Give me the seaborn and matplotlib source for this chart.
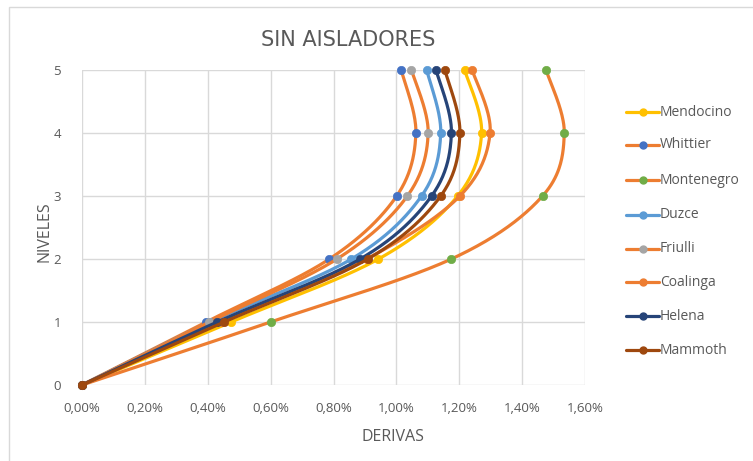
import numpy as np
import pandas as pd
import matplotlib
matplotlib.use("Agg")
import matplotlib.pyplot as plt
from matplotlib.lines import Line2D
from matplotlib.patches import Rectangle
import seaborn as sns

# Story levels and inter-storey drifts (%) for each ground motion record
niveles = [0, 1, 2, 3, 4, 5]
series_names = ["Mendocino", "Whittier", "Montenegro", "Duzce",
                "Friulli", "Coalinga", "Helena", "Mammoth"]
mendocino = [0.0, 0.474, 0.943, 1.195, 1.271, 1.217]
whittier = [0.0, 0.395, 0.787, 1.001, 1.062, 1.015]
montenegro = [0.0, 0.600, 1.175, 1.465, 1.534, 1.476]
duzce = [0.0, 0.408, 0.857, 1.080, 1.141, 1.096]
friulli = [0.0, 0.405, 0.811, 1.035, 1.101, 1.048]
coalinga = [0.0, 0.445, 0.905, 1.202, 1.298, 1.241]
helena = [0.0, 0.430, 0.885, 1.112, 1.175, 1.126]
mammoth = [0.0, 0.452, 0.909, 1.141, 1.202, 1.154]
derivas = [mendocino, whittier, montenegro, duzce, friulli, coalinga, helena, mammoth]

x_ticks = [0.0, 0.2, 0.4, 0.6, 0.8, 1.0, 1.2, 1.4, 1.6]
y_ticks = [0, 1, 2, 3, 4, 5]

# Office palette: line colour / marker colour per series
ORANGE = "#ED7D31"
line_colors = ["#FFC000", ORANGE, ORANGE, "#5B9BD5", ORANGE, ORANGE, "#264478", "#9E480E"]
marker_colors = ["#FFC000", "#4472C4", "#70AD47", "#5B9BD5", "#A5A5A5", ORANGE, "#264478", "#9E480E"]

W, H = 753, 461
sns.set_theme(style="white")
plt.rcParams["font.family"] = ["Open Sans", "DejaVu Sans"]
TXT = "#595959"
GRID = "#d9d9d9"


def smooth(xs, ys, n=40):
    """Bezier smoothing through the points (Catmull-Rom control points)."""
    P = np.column_stack([xs, ys]).astype(float)
    m = len(P)
    out = []
    for i in range(m - 1):
        p0 = P[max(i - 1, 0)]
        p1 = P[i]
        p2 = P[i + 1]
        p3 = P[min(i + 2, m - 1)]
        c1 = p1 + (p2 - p0) / 6.0
        c2 = p2 - (p3 - p1) / 6.0
        t = np.linspace(0, 1, n)[:, None]
        seg = ((1 - t) ** 3) * p1 + 3 * ((1 - t) ** 2) * t * c1 + 3 * (1 - t) * t ** 2 * c2 + t ** 3 * p2
        out.append(seg if i == 0 else seg[1:])
    pts = np.vstack(out)
    return pts[:, 0], pts[:, 1]


fig = plt.figure(figsize=(W / 100, H / 100), dpi=100)
fig.patch.set_facecolor("white")
ax = fig.add_axes([82 / W, 1 - 385 / H, (585 - 82) / W, (385 - 70) / H])

for k, (name, vals) in enumerate(zip(series_names, derivas)):
    sx, sy = smooth(vals, niveles)
    curve = pd.DataFrame({"x": sx, "y": sy})
    sns.lineplot(data=curve, x="x", y="y", sort=False, estimator=None, ax=ax,
                 color=line_colors[k], linewidth=2.3, zorder=3 + k * 0.1)
    pts = pd.DataFrame({"x": vals, "y": niveles})
    sns.scatterplot(data=pts, x="x", y="y", ax=ax, color=marker_colors[k], s=36,
                    edgecolor=marker_colors[k], linewidth=0.5, zorder=3.05 + k * 0.1,
                    clip_on=False)

ax.set_xlim(0, 1.6)
ax.set_ylim(0, 5)
ax.set_xticks(x_ticks)
ax.set_yticks(y_ticks)
ax.set_xticklabels([f"{v:.2f}%".replace(".", ",") for v in x_ticks])
ax.set_yticklabels([str(v) for v in y_ticks])
ax.grid(True, color=GRID, linewidth=1)
ax.set_axisbelow(True)
for s in ax.spines.values():
    s.set_visible(False)
ax.tick_params(axis="both", length=0, labelsize=9.5, colors=TXT)
ax.tick_params(axis="x", pad=12)
ax.tick_params(axis="y", pad=15)
ax.set_xlabel("")
ax.set_ylabel("")

fig.text(348 / W, 1 - 40 / H, "SIN AISLADORES", ha="center", va="center",
         fontsize=15, color=TXT, family=["Liberation Sans Narrow", "DejaVu Sans"])
fig.text(393 / W, 1 - 437 / H, "DERIVAS", ha="center", va="center", fontsize=11.5, color=TXT)
fig.text(45 / W, 1 - 232 / H, "NIVELES", ha="center", va="center", fontsize=11.5,
         color=TXT, rotation=90)

# Legend on the right
leg_y = [112, 145, 180, 215, 249, 282, 316, 350]
for k, name in enumerate(series_names):
    y = 1 - leg_y[k] / H
    fig.add_artist(Line2D([626 / W, 659 / W], [y, y], color=line_colors[k], linewidth=2.3))
    fig.add_artist(Line2D([642.5 / W], [y], marker="o", markersize=5,
                          color=marker_colors[k], linestyle="none"))
    fig.text(660 / W, y, name, ha="left", va="center", fontsize=10, color=TXT)

# Chart frame
fig.add_artist(Rectangle((9 / W, -0.01), 1.0, 1 - 7 / H + 0.01, transform=fig.transFigure,
                         fill=False, edgecolor=GRID, linewidth=1))

fig.savefig("out.png", dpi=100, facecolor="white")
